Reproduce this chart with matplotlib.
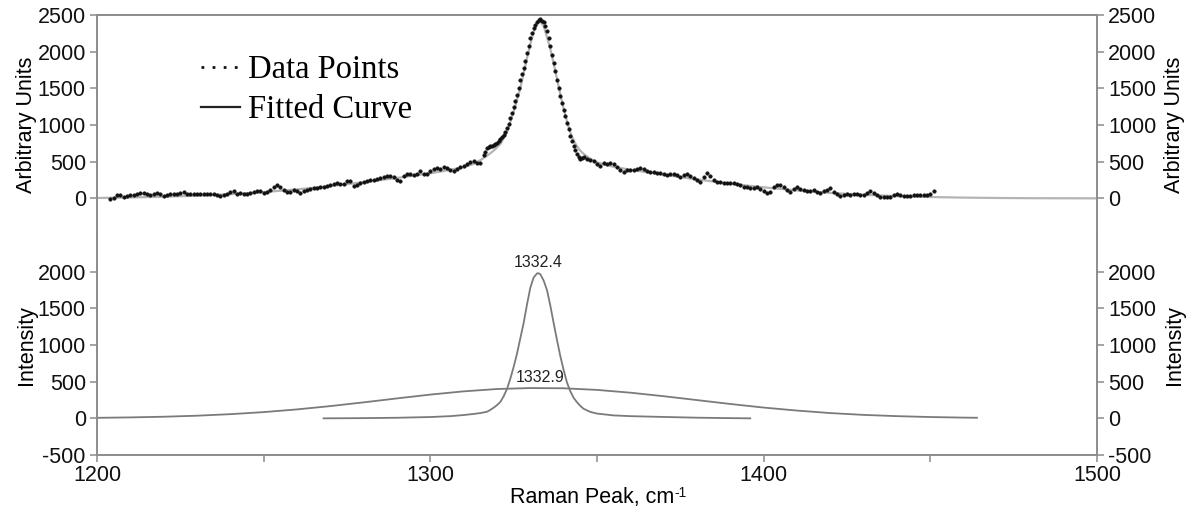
import numpy as np
import matplotlib
matplotlib.use("Agg")
import matplotlib.pyplot as plt
from matplotlib.lines import Line2D
from matplotlib.ticker import MultipleLocator

plt.rcParams['font.family'] = ['Liberation Sans', 'DejaVu Sans']
plt.rcParams['axes.unicode_minus'] = False

# measured spectrum (top panel)
data_x = np.concatenate([np.arange(1204, 1317, 1.0),
                         np.arange(1316.5, 1346.5, 0.5),
                         np.arange(1347, 1452, 1.0)])
data_y = [
    -10, 5, 45, 40, 25, 35, 41, 47, 62, 78,
    72, 59, 52, 58, 70, 55, 36, 52, 58, 56,
    62, 74, 82, 58, 55, 60, 64, 61, 59, 59,
    59, 56, 50, 32, 40, 55, 90, 95, 64, 74,
    55, 60, 73, 82, 95, 105, 75, 90, 110, 150,
    185, 150, 120, 80, 90, 115, 95, 75, 95, 112,
    125, 135, 145, 155, 158, 162, 180, 200, 212, 195,
    200, 230, 240, 170, 185, 205, 225, 240, 246, 252,
    260, 272, 285, 310, 305, 292, 250, 230, 310, 328,
    337, 322, 330, 370, 330, 330, 375, 395, 410, 405,
    425, 415, 385, 370, 400, 430, 445, 465, 495, 510,
    485, 480, 590,
    # 1316.5 - 1346.0, step 0.5
    630, 680, 700, 712, 720, 730, 745, 758, 780, 805,
    830, 860, 900, 955, 1020, 1095, 1170, 1250, 1330, 1415,
    1510, 1615, 1690, 1775, 1870, 1980, 2080, 2185, 2255, 2320,
    2365, 2410, 2430, 2440, 2420, 2400, 2350, 2280, 2180, 2075,
    1960, 1845, 1740, 1620, 1510, 1395, 1305, 1210, 1120, 1030,
    940, 850, 780, 715, 660, 600, 560, 535, 555, 560,
    # 1347 - 1451
    538, 525, 512, 470, 437, 480, 470, 483, 470, 428,
    390, 360, 385, 392, 392, 405, 419, 395, 373, 360,
    355, 350, 340, 333, 325, 330, 337, 315, 291, 320,
    337, 305, 282, 250, 223, 290, 351, 300, 255, 228,
    220, 212, 209, 209, 205, 195, 180, 160, 150, 135,
    145, 155, 130, 105, 70, 90, 150, 180, 185, 150,
    115, 90, 130, 160, 125, 115, 102, 105, 108, 90,
    78, 95, 120, 140, 90, 55, 30, 50, 62, 52,
    55, 63, 50, 42, 75, 100, 75, 45, 25, 18,
    18, 25, 50, 62, 50, 38, 28, 32, 40, 45,
    50, 45, 42, 60, 100,
]

# fitted curve (top panel)
fit_x = [1200, 1210, 1220, 1230, 1240, 1250, 1260, 1270, 1280, 1290,
         1300, 1305, 1310, 1313, 1315, 1317, 1319, 1321, 1323, 1325,
         1327, 1329, 1330, 1331, 1332, 1332.5, 1333, 1334, 1335, 1336,
         1337, 1338, 1339, 1340, 1341, 1342, 1343, 1344, 1345, 1346,
         1348, 1350, 1355, 1360, 1370, 1380, 1390, 1400, 1410, 1420,
         1430, 1440, 1450, 1460, 1470, 1480, 1500]
fit_y = [5, 12, 22, 36, 57, 85, 122, 167, 220, 278,
         342, 380, 425, 470, 520, 580, 650, 740, 900, 1180,
         1500, 1910, 2100, 2270, 2400, 2430, 2410, 2350, 2200, 2040,
         1840, 1630, 1420, 1220, 1050, 900, 790, 710, 650, 605,
         540, 490, 430, 390, 322, 258, 200, 150, 108, 74,
         48, 30, 18, 10, 5, 2, 0]

# fitted components (bottom panel)
narrow_x = [1268, 1280, 1290, 1300, 1306, 1310, 1313, 1315, 1317, 1318,
            1319, 1320, 1321, 1322, 1323, 1324, 1325, 1326, 1327, 1328,
            1329, 1330, 1331, 1332, 1332.4, 1333, 1334, 1335, 1336, 1337,
            1338, 1339, 1340, 1341, 1342, 1343, 1344, 1345, 1346, 1348,
            1350, 1355, 1360, 1371, 1380, 1390, 1396]
narrow_y = [0, 3, 8, 18, 30, 45, 60, 72, 90, 115,
            145, 180, 223, 300, 400, 540, 700, 880, 1090, 1300,
            1550, 1780, 1920, 1975, 1980, 1965, 1880, 1750, 1540, 1300,
            1070, 850, 660, 490, 370, 280, 220, 170, 130, 88,
            65, 40, 30, 18, 9, 3, 0]
broad_x = [1200, 1210, 1220, 1230, 1240, 1250, 1260, 1270, 1280, 1290,
           1300, 1310, 1320, 1330, 1340, 1350, 1360, 1370, 1380, 1390,
           1400, 1410, 1420, 1430, 1440, 1450, 1460, 1464]
broad_y = [7, 13, 22, 36, 57, 85, 122, 167, 218, 272,
           324, 368, 400, 413, 410, 388, 350, 302, 249, 196,
           147, 106, 72, 47, 30, 18, 10, 8]

peak_labels = ["1332.4", "1332.9"]
peak_pos = [(1332.4, 1980), (1332.9, 413)]

fig = plt.figure(figsize=(11.9, 5.12), dpi=100)
ax1 = fig.add_axes([0.0815, 0.541, 0.8403, 0.4297])
ax2 = fig.add_axes([0.0815, 0.1113, 0.8403, 0.4297], sharex=ax1)

spine_c = '#8c8c8c'
fs = 15.5

# top panel
ax1.plot(fit_x, fit_y, color='#b4b4b4', lw=1.6, zorder=2)
ax1.plot(data_x, data_y, linestyle='none', marker='o', ms=2.6,
         mfc='#111111', mec='#111111', mew=0.3, zorder=3)

# bottom panel
ax2.plot(broad_x, broad_y, color='#7a7a7a', lw=1.3)
ax2.plot(narrow_x, narrow_y, color='#7a7a7a', lw=1.3)
for lab, (px, py) in zip(peak_labels, peak_pos):
    ax2.annotate(lab, (px, py), xytext=(0, 2), textcoords='offset points',
                 ha='center', va='bottom', fontsize=11.5, color='#222222')

# y labels on the right side via twin axes (no ticks of their own)
for ax, lab in ((ax1, 'Arbitrary Units'), (ax2, 'Intensity')):
    ax.set_ylabel(lab, fontsize=fs, labelpad=0.5)
    tw = ax.twinx()
    tw.set_ylim(-500, 2500)
    tw.set_yticks([])
    for s in tw.spines.values():
        s.set_visible(False)
    tw.set_ylabel(lab, fontsize=fs, labelpad=48)

for ax in (ax1, ax2):
    ax.set_xlim(1200, 1500)
    ax.set_ylim(-500, 2500)
    for s in ax.spines.values():
        s.set_color(spine_c)
        s.set_linewidth(1.4)
    ax.tick_params(axis='y', which='both', left=True, right=True,
                   labelleft=True, labelright=True, direction='out',
                   length=5, width=1.1, color=spine_c, labelsize=fs,
                   pad=3, labelcolor='#111111')

ax1.spines['bottom'].set_visible(False)
ax1.set_yticks([0, 500, 1000, 1500, 2000, 2500])
ax1.tick_params(axis='x', which='both', bottom=False, labelbottom=False)

ax2.spines['top'].set_visible(False)
ax2.set_yticks([-500, 0, 500, 1000, 1500, 2000])
ax2.xaxis.set_major_locator(MultipleLocator(100))
ax2.xaxis.set_minor_locator(MultipleLocator(50))
ax2.tick_params(axis='x', which='both', direction='out', length=5,
                width=1.1, color=spine_c, labelsize=fs, pad=2,
                labelcolor='#111111')
xl = ax2.set_xlabel('Raman Peak, cm', fontsize=fs, labelpad=1)
xl.set_x(0.495)
ax2.annotate('-1', xy=(1, 1), xycoords=xl, xytext=(0.5, 1),
             textcoords='offset points', ha='left', va='top', fontsize=10,
             color='#111111')

handles = [Line2D([], [], color='#111111', ls=(0, (1, 3)), lw=2.0),
           Line2D([], [], color='#222222', ls='-', lw=1.6)]
leg = ax1.legend(handles, ['Data Points', 'Fitted Curve'], loc='upper left',
                 bbox_to_anchor=(0.091, 0.88), frameon=False,
                 prop={'family': 'Liberation Serif', 'size': 23.5},
                 handlelength=1.2, handletextpad=0.25, labelspacing=0.3,
                 borderaxespad=0)

fig.savefig('out.png', dpi=100)
